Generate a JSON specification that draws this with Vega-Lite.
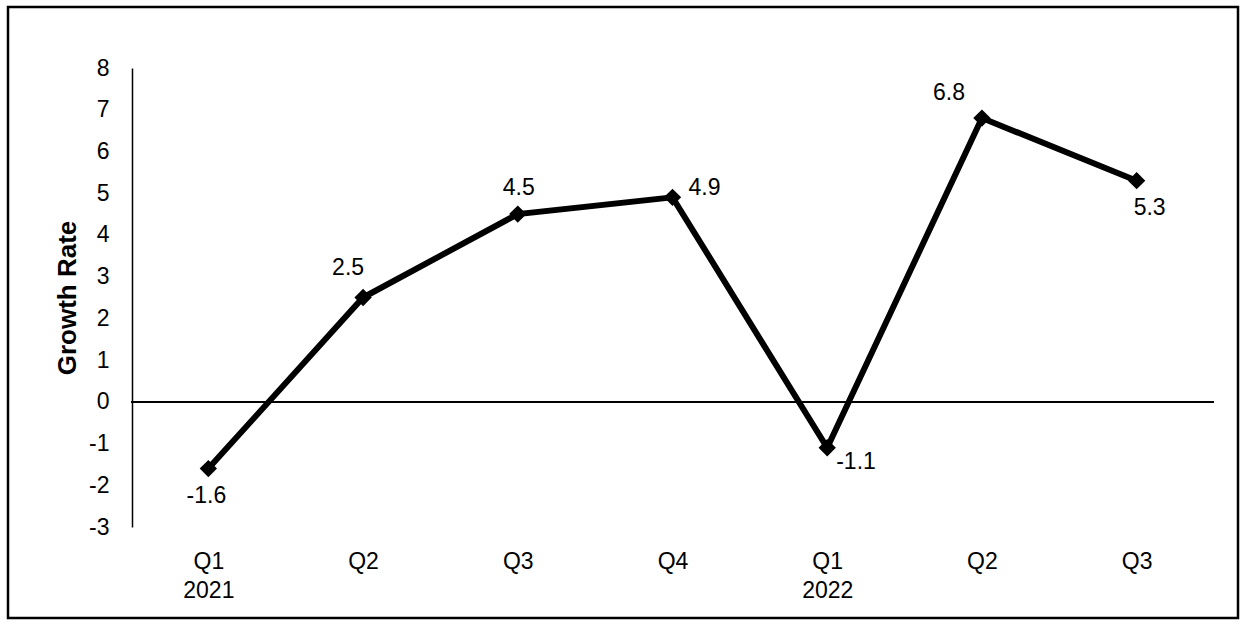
{
  "$schema": "https://vega.github.io/schema/vega-lite/v6.json",
  "width": 1230,
  "height": 611,
  "autosize": {"type": "none"},
  "padding": {"left": 8, "top": 7, "right": 3, "bottom": 4},
  "background": "white",
  "config": {
    "view": {"stroke": "black", "strokeWidth": 2.5},
    "font": "Liberation Sans"
  },
  "data": {
    "values": [
      {"quarter": "Q1 2021", "growth": -1.6},
      {"quarter": "Q2 2021", "growth": 2.5},
      {"quarter": "Q3 2021", "growth": 4.5},
      {"quarter": "Q4 2021", "growth": 4.9},
      {"quarter": "Q1 2022", "growth": -1.1},
      {"quarter": "Q2 2022", "growth": 6.8},
      {"quarter": "Q3 2022", "growth": 5.3}
    ]
  },
  "encoding": {
    "y": {
      "field": "growth",
      "type": "quantitative",
      "scale": {"domain": [-3, 8], "range": [520, 61], "nice": false, "zero": false},
      "axis": {
        "title": "Growth Rate",
        "titleFont": "Liberation Sans",
        "titleFontSize": 26,
        "titleFontWeight": "bold",
        "titleColor": "black",
        "titlePadding": 8,
        "values": [-3, -2, -1, 0, 1, 2, 3, 4, 5, 6, 7, 8],
        "labelExpr": "datum.value < 0 ? '-' + abs(datum.value) : '' + datum.value",
        "offset": -124,
        "grid": false,
        "ticks": false,
        "tickSize": 0,
        "domainColor": "black",
        "domainWidth": 1.5,
        "labelFont": "Liberation Sans",
        "labelFontSize": 23,
        "labelColor": "black",
        "labelPadding": 23
      }
    }
  },
  "layer": [
    {
      "mark": {"type": "rule", "color": "black", "strokeWidth": 1.5},
      "encoding": {
        "x": {"datum": 0, "type": "quantitative", "scale": {"domain": [0, 1], "range": [123, 1206]}, "axis": null},
        "x2": {"datum": 1},
        "y": {"datum": 0, "type": "quantitative"}
      }
    },
    {
      "layer": [
        {
          "mark": {"type": "line", "color": "black", "strokeWidth": 6},
          "encoding": {
            "x": {
              "field": "quarter",
              "type": "nominal",
              "sort": null,
              "scale": {"type": "point", "range": [123, 1206], "padding": 0.5},
              "axis": {
                "title": null,
                "orient": "bottom",
                "offset": -68,
                "domain": false,
                "ticks": false,
                "tickSize": 0,
                "grid": false,
                "labelAngle": 0,
                "labelPadding": 0,
                "labelBaseline": "top",
                "labelFont": "Liberation Sans",
                "labelFontSize": 23,
                "labelLineHeight": 29,
                "labelColor": "black",
                "labelExpr": "split(datum.label, ' ')[0] == 'Q1' ? split(datum.label, ' ') : split(datum.label, ' ')[0]"
              }
            }
          }
        },
        {
          "mark": {"type": "point", "shape": "diamond", "filled": true, "size": 300, "color": "black", "opacity": 1},
          "encoding": {"x": {"field": "quarter", "type": "nominal", "sort": null}}
        },
        {
          "transform": [{"filter": "datum.quarter == 'Q1 2021'"}],
          "mark": {"type": "text", "fontSize": 23, "color": "black", "align": "center", "baseline": "middle", "dx": -2, "dy": 27},
          "encoding": {"x": {"field": "quarter", "type": "nominal", "sort": null}, "text": {"field": "growth", "type": "nominal"}}
        },
        {
          "transform": [{"filter": "datum.quarter == 'Q2 2021'"}],
          "mark": {"type": "text", "fontSize": 23, "color": "black", "align": "center", "baseline": "middle", "dx": -15, "dy": -30},
          "encoding": {"x": {"field": "quarter", "type": "nominal", "sort": null}, "text": {"field": "growth", "type": "nominal"}}
        },
        {
          "transform": [{"filter": "datum.quarter == 'Q3 2021'"}],
          "mark": {"type": "text", "fontSize": 23, "color": "black", "align": "center", "baseline": "middle", "dx": 1, "dy": -26},
          "encoding": {"x": {"field": "quarter", "type": "nominal", "sort": null}, "text": {"field": "growth", "type": "nominal"}}
        },
        {
          "transform": [{"filter": "datum.quarter == 'Q4 2021'"}],
          "mark": {"type": "text", "fontSize": 23, "color": "black", "align": "left", "baseline": "middle", "dx": 16, "dy": -9},
          "encoding": {"x": {"field": "quarter", "type": "nominal", "sort": null}, "text": {"field": "growth", "type": "nominal"}}
        },
        {
          "transform": [{"filter": "datum.quarter == 'Q1 2022'"}],
          "mark": {"type": "text", "fontSize": 23, "color": "black", "align": "left", "baseline": "middle", "dx": 9, "dy": 14},
          "encoding": {"x": {"field": "quarter", "type": "nominal", "sort": null}, "text": {"field": "growth", "type": "nominal"}}
        },
        {
          "transform": [{"filter": "datum.quarter == 'Q2 2022'"}],
          "mark": {"type": "text", "fontSize": 23, "color": "black", "align": "center", "baseline": "middle", "dx": -33, "dy": -25},
          "encoding": {"x": {"field": "quarter", "type": "nominal", "sort": null}, "text": {"field": "growth", "type": "nominal"}}
        },
        {
          "transform": [{"filter": "datum.quarter == 'Q3 2022'"}],
          "mark": {"type": "text", "fontSize": 23, "color": "black", "align": "center", "baseline": "middle", "dx": 13, "dy": 27},
          "encoding": {"x": {"field": "quarter", "type": "nominal", "sort": null}, "text": {"field": "growth", "type": "nominal"}}
        }
      ]
    }
  ],
  "resolve": {"scale": {"x": "independent"}}
}
